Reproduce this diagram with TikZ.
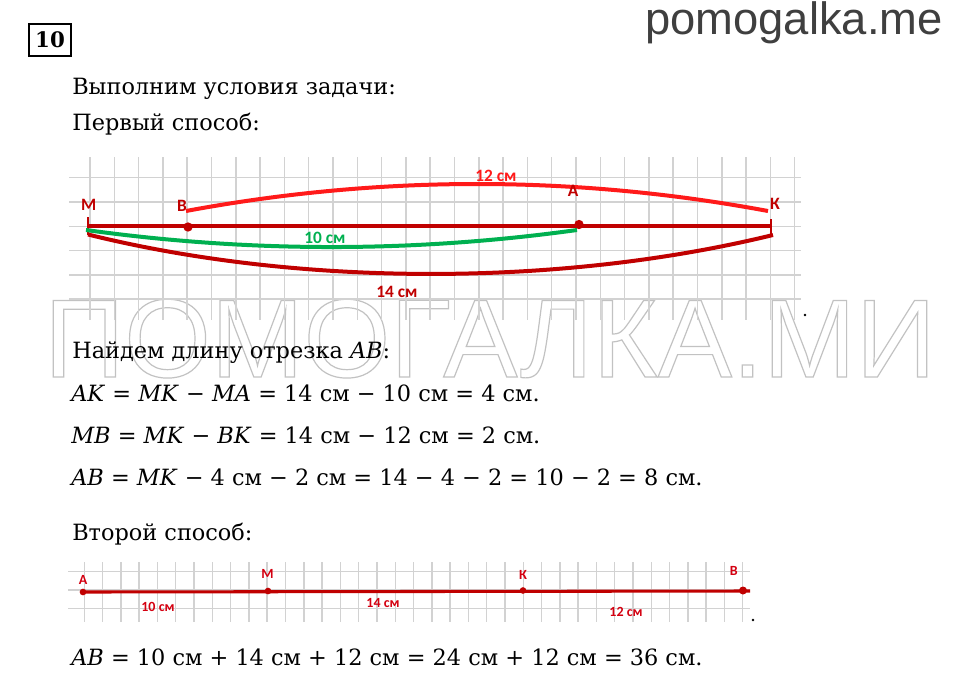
\documentclass[tikz,border=0pt]{standalone}
\usepackage{fontspec}
\setmainfont{DejaVu Serif}
\newfontfamily\lblfont{Carlito}
\newfontfamily\sitefont{Liberation Sans}
\definecolor{darkred}{HTML}{C00000}
\definecolor{brightred}{HTML}{FF1A1A}
\definecolor{lblred}{HTML}{D40010}
\definecolor{lgreen}{HTML}{00B050}
\definecolor{gridgray}{HTML}{D2D2D2}
\definecolor{wmgray}{HTML}{C2C2C2}
\definecolor{sitegray}{HTML}{3F3F3F}
% outlined letters for the big watermark
\newcommand{\strokedtext}[1]{\special{pdf:literal direct 1 Tr 0.9 w}#1\special{pdf:literal direct 0 Tr}}
\begin{document}
\begin{tikzpicture}[x=0.75pt, y=-0.75pt,
% common options for the text lines:
txt/.style = {anchor=base west, inner sep=0, font=\fontsize{16.8}{19}\selectfont},
% common options for the grid lines:
gridline/.style = {draw=gridgray, line width=1.1pt},
% common options for the point labels:
lbl/.style = {inner sep=0, text=darkred, font=\lblfont\bfseries\fontsize{13}{13}\selectfont},
lblsmall/.style = {inner sep=0, text=lblred, font=\lblfont\bfseries\fontsize{10.5}{10.5}\selectfont},
% common options for the points and segments:
pnt/.style = {circle, fill=darkred, inner sep=0, minimum size=7pt},
seg/.style = {line width=3pt}]
\useasboundingbox (0,0) rectangle (960,682);
% watermarks
\node[anchor=base west, inner sep=0, text=sitegray, font=\sitefont\fontsize{34}{34}\selectfont] (site) at (645,34.5) {pomogalka.me};
\node[anchor=base west, inner sep=0, text=wmgray, font=\sitefont\fontsize{83.5}{83.5}\selectfont] (wm) at (44,377) {\strokedtext{ПОМОГАЛКА.МИ}};
% task number
\node[draw, line width=1.6pt, inner sep=0, minimum width=31pt, minimum height=24pt, font=\bfseries\fontsize{16}{16}\selectfont] (num) at (50,40) {10};
\node[txt] (t1) at (72,94.5) {Выполним условия задачи:};
\node[txt] (t2) at (72,130.7) {Первый способ:};
% first way: grid
\foreach \i in {0,...,29} \draw[gridline] ({90+24.3*\i},157) -- ({90+24.3*\i},320);
\foreach \j in {0,...,5} \draw[gridline] (69,{177.7+24.3*\j}) -- (801,{177.7+24.3*\j});
% first way: segment MK and the arcs
\coordinate (M1) at (89,226);
\coordinate (K1) at (771,226);
\coordinate (M1t) at (88,217);
\coordinate (M1b) at (88,234.5);
\coordinate (K1t) at (771,219);
\coordinate (K1b) at (771,235);
\coordinate (r0) at (186,211);
\coordinate (r1) at (768,211);
\coordinate (g0) at (86,230);
\coordinate (g1) at (577,230);
\coordinate (d0) at (88,234.5);
\coordinate (d1) at (773,235);
\draw[seg, darkred] (M1) -- (K1);
\draw[darkred, line width=1.5pt] (M1t) -- (M1b);
\draw[darkred, line width=1.5pt] (K1t) -- (K1b);
\draw[seg, brightred] (r0) .. controls (380,175) and (574,175) .. (r1);
\draw[seg, lgreen] (g0) .. controls (249.7,252.7) and (413.3,252.7) .. (g1);
\draw[seg, darkred] (d0) .. controls (300,287) and (560,287) .. (d1);
\node[pnt] (B1) at (188,227) {};
\node[pnt] (A1) at (579,224.5) {};
\node[lbl] (M1l) at (88.7,205) {М};
\node[lbl] (B1l) at (182,206) {В};
\node[lbl] (A1l) at (573,191) {А};
\node[lbl] (K1l) at (775,204) {К};
\node[lbl, text=brightred] (r) at (496,175.5) {12 см};
\node[lbl, text=lgreen] (g) at (325,238) {10 см};
\node[lbl] (d) at (397,292) {14 см};
\node[circle, fill=black, inner sep=0, minimum size=2pt] (end1) at (805,315) {};
% finding AB
\node[txt] (t3) at (72,358) {Найдем длину отрезка \textit{AB}:};
\node[txt] (t4) at (71,401.7) {\textit{AK} = \textit{MK} − \textit{MA} = 14 см − 10 см = 4 см.};
\node[txt] (t5) at (71,443.3) {\textit{MB} = \textit{MK} − \textit{BK} = 14 см − 12 см = 2 см.};
\node[txt] (t6) at (71,485) {\textit{AB} = \textit{MK} − 4 см − 2 см = 14 − 4 − 2 = 10 − 2 = 8 см.};
\node[txt] (t7) at (72,540) {Второй способ:};
% second way: grid
\foreach \i in {0,...,36} \draw[gridline] ({84.3+18.29*\i},562) -- ({84.3+18.29*\i},622);
\foreach \y in {571.7,590,608.3} \draw[gridline] (68,\y) -- (750,\y);
% second way: segment AB
\coordinate (A2) at (83,592);
\coordinate (E2) at (750,591);
\draw[darkred, line width=2.3pt] (A2) -- (E2);
\node[pnt, minimum size=5pt] (A2d) at (83,592) {};
\node[pnt, minimum size=5pt] (M2) at (268,591) {};
\node[pnt, minimum size=5pt] (K2) at (523,590.5) {};
\node[pnt, minimum size=6pt] (B2) at (743,590.5) {};
\node[lblsmall] (A2l) at (83,579.5) {А};
\node[lblsmall] (M2l) at (267.5,574) {М};
\node[lblsmall] (K2l) at (523,574.5) {К};
\node[lblsmall] (B2l) at (733.7,571) {В};
\node[lblsmall] (s1) at (158,606.5) {10 см};
\node[lblsmall] (s2) at (383,603) {14 см};
\node[lblsmall] (s3) at (626,611.7) {12 см};
\node[circle, fill=black, inner sep=0, minimum size=2pt] (end2) at (753,620) {};
\node[txt] (t8) at (71,665) {\textit{AB} = 10 см + 14 см + 12 см = 24 см + 12 см = 36 см.};
\end{tikzpicture}
\end{document}
